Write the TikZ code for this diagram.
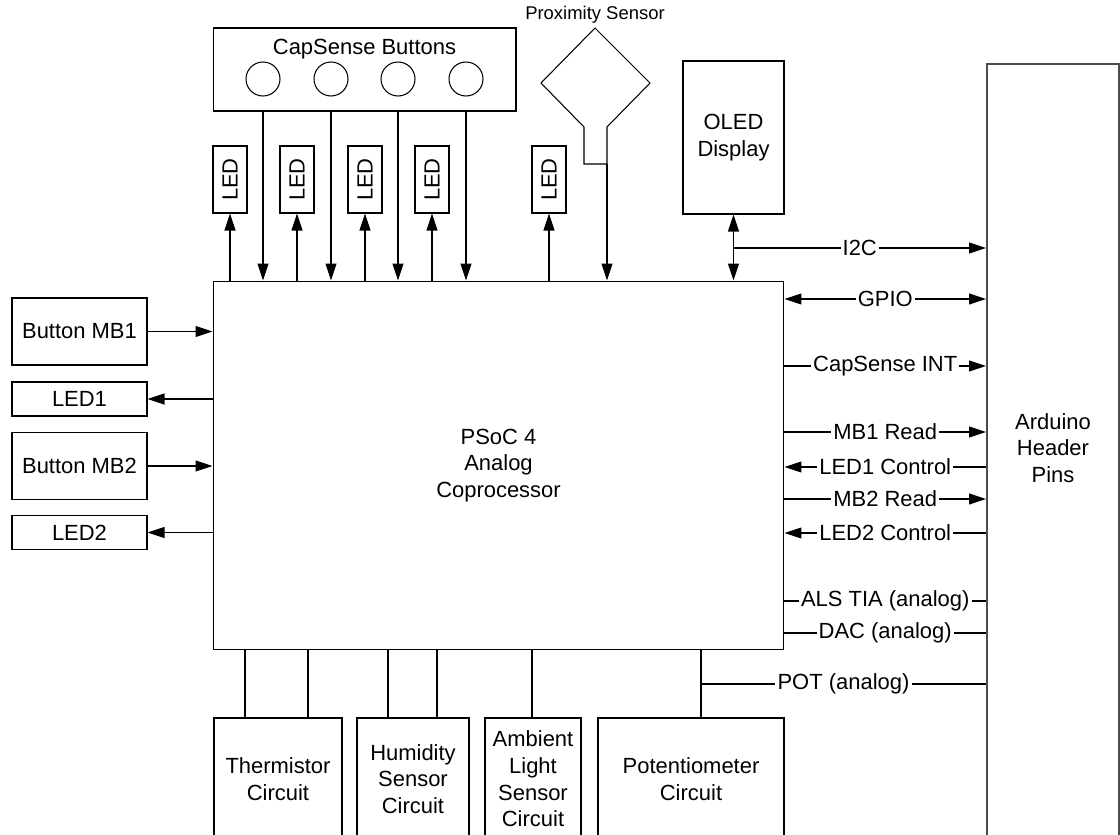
\documentclass[tikz,border=0pt]{standalone}
\usepackage{fontspec}
\setmainfont{Liberation Sans}
\usetikzlibrary{positioning,calc,arrows.meta}
\tikzset{
	>={Triangle[length=0.34cm,width=0.22cm]},
	blk/.style={draw=black,fill=white,line width=0.6pt,inner sep=1pt,align=center},
	led/.style={blk,minimum width=0.68cm,minimum height=1.34cm},
	pad/.style={circle,draw=black,line width=0.6pt,minimum size=0.68cm,inner sep=0pt},
	wire/.style={draw=black,line width=0.6pt},
	sigto/.style={->},
	sigfrom/.style={<-},
	sigboth/.style={<->},
	sigplain/.style={-},
	sig/.style={fill=white,inner sep=1.2pt},
}

\begin{document}
\begin{tikzpicture}[x=0.02cm,y=-0.02cm,font=\fontsize{12.5}{15.2}\selectfont,align=center]
	\clip (0,0) rectangle (1120,835);
	% main chip
	\node[blk,minimum width=11.42cm,minimum height=7.38cm] (psoc) at (498.5,465.5) {PSoC 4\\Analog\\Coprocessor};
	% capsense buttons
	\node[blk,minimum width=6.06cm,minimum height=1.66cm] (cap) at (364.5,69.5) {};
	\node (captxt) at (364.5,49) {CapSense Buttons};
	\foreach \n/\x in {1/263,2/331,3/398,4/466}{
		\node[pad] (b\n) at (\x,79) {};
		\draw[wire,->] (b\n |- cap.south) -- (b\n |- psoc.north);
	}
	% top leds
	\foreach \n/\x in {1/230,2/297,3/365,4/432,5/549}{
		\node[led] (led\n) at (\x,179.5) {\rotatebox{90}{LED}};
		\draw[wire,->] (led\n |- psoc.north) -- (led\n.south);
	}
	% proximity sensor
	\node[font=\fontsize{10.5}{12}\selectfont] (proxtxt) at (595,15) {Proximity Sensor};
	\draw[wire] (584,127) -- (541,83) -- (595,28) -- (650,83) -- (607,127) -- (607,164) -- (584,164) -- cycle;
	\coordinate (prox) at (607,164);
	\draw[wire,->] (prox) -- (prox |- psoc.north);
	% oled
	\node[blk,minimum width=2.02cm,minimum height=3.06cm] (oled) at (733.5,137.5) {OLED\\Display};
	\draw[wire,<->] (oled.south) -- (oled.south |- psoc.north);
	% arduino header
	\node[blk,draw=black!70,line width=1pt,minimum width=2.65cm,minimum height=16cm,anchor=north west] (ard) at (986,63) {};
	\node (ardtxt) at (1053,448) {Arduino\\Header\\Pins};
	\coordinate (i2c) at (oled.south |- 0,248);
	\draw[wire,->] (i2c) -- node[sig]{I2C} (i2c -| ard.west);
	\foreach \y/\txt/\how in {299/GPIO/sigboth,366/CapSense INT/sigto,432/MB1 Read/sigto,467/LED1 Control/sigfrom,499/MB2 Read/sigto,533/LED2 Control/sigfrom,601/ALS TIA (analog)/sigplain,633/DAC (analog)/sigplain}
		\draw[wire,\how] (psoc.east |- 0,\y) -- node[sig]{\txt} (ard.west |- 0,\y);
	% left side
	\node[blk,minimum width=2.7cm,minimum height=1.34cm] (mb1) at (79.5,331.5) {Button MB1};
	\node[blk,minimum width=2.7cm,minimum height=0.68cm] (mbled1) at (79.5,399) {LED1};
	\node[blk,minimum width=2.7cm,minimum height=1.34cm] (mb2) at (79.5,466) {Button MB2};
	\node[blk,minimum width=2.7cm,minimum height=0.68cm] (mbled2) at (79.5,532.5) {LED2};
	\foreach \b in {mb1,mb2}
		\draw[wire,->] (\b.east) -- (\b.east -| psoc.west);
	\foreach \b in {mbled1,mbled2}
		\draw[wire,->] (\b.east -| psoc.west) -- (\b.east);
	% bottom circuits
	\foreach \nm/\x/\w/\txt in {therm/278/2.56/Thermistor\\Circuit,hum/413/2.24/Humidity\\Sensor\\Circuit,amb/533/1.92/Ambient\\Light\\Sensor\\Circuit,pot/691/3.72/Potentiometer\\Circuit}
		\node[blk,minimum width=\w cm,minimum height=2.44cm] (\nm) at (\x,779) {\txt};
	\foreach \x/\b in {245/therm,308/therm,388/hum,437/hum,532/amb,701/pot}
		\draw[wire] (psoc.south -| \x,0) -- (\b.north -| \x,0);
	\coordinate (potj) at (701,684);
	\draw[wire] (potj) -- node[sig]{POT (analog)} (ard.west |- potj);
\end{tikzpicture}
\end{document}
